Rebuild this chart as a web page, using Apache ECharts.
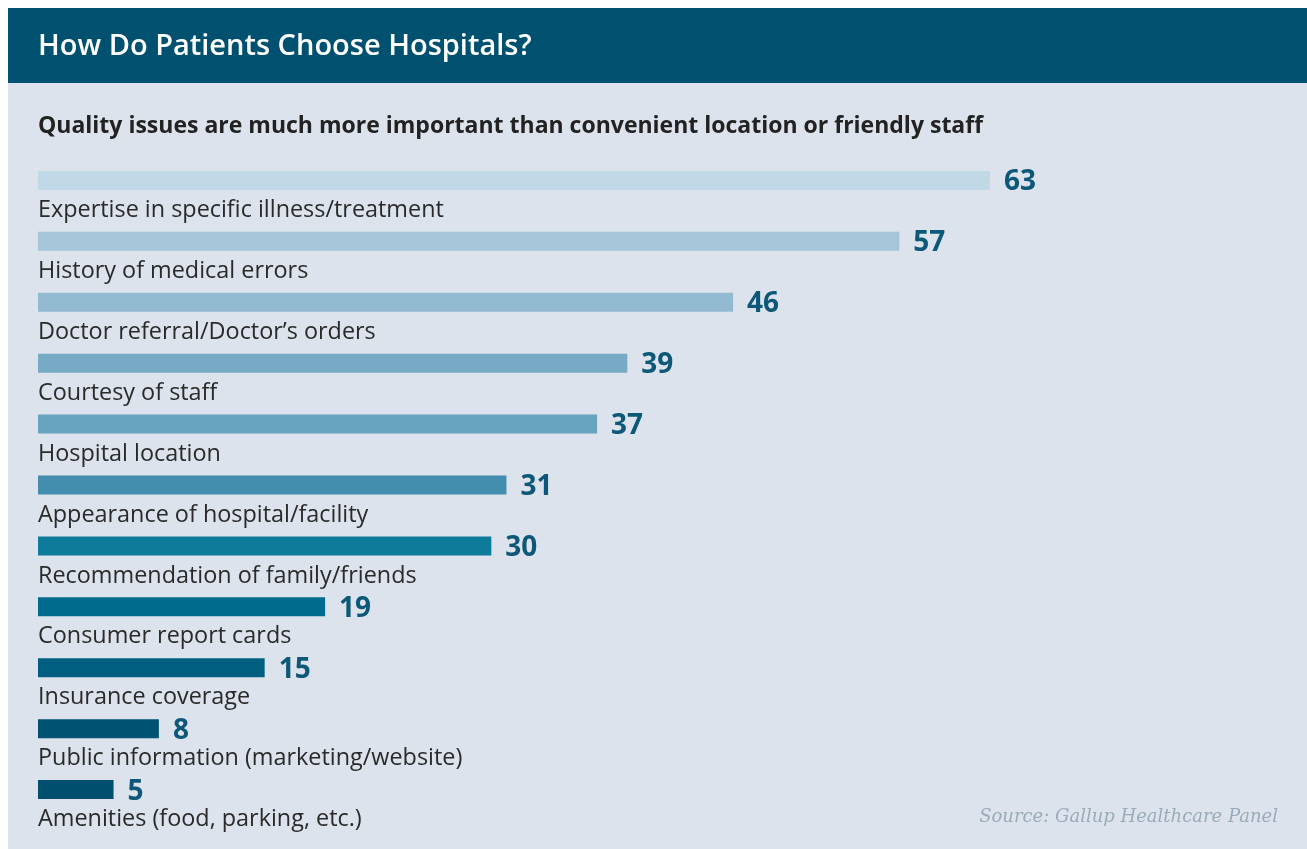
<!DOCTYPE html>
<html>
<head>
<meta charset="utf-8">
<title>How Do Patients Choose Hospitals?</title>
<script src="https://cdn.jsdelivr.net/npm/echarts@6/dist/echarts.min.js"></script>
<style>
  html, body { margin: 0; padding: 0; background: #ffffff; }
  #chart { width: 1307px; height: 849px; }
</style>
</head>
<body>
<div id="chart"></div>
<script>
// categories, top to bottom
const factors = [
  'Expertise in specific illness/treatment',
  'History of medical errors',
  'Doctor referral/Doctor\u2019s orders',
  'Courtesy of staff',
  'Hospital location',
  'Appearance of hospital/facility',
  'Recommendation of family/friends',
  'Consumer report cards',
  'Insurance coverage',
  'Public information (marketing/website)',
  'Amenities (food, parking, etc.)'
]
// percent of patients
const shares = [63, 57, 46, 39, 37, 31, 30, 19, 15, 8, 5]
// bar colours, light to dark
const barColors = ['#c1d9e6', '#a4c6d8', '#92bbd1', '#77abc5', '#68a3c0', '#438eae',
  '#0f7b9b', '#006b8c', '#005f80', '#005273', '#004f6e']

const chartInstance = echarts.init(document.getElementById('chart'))

const option = {
  backgroundColor: '#ffffff',
  animation: false,
  graphic: [
    // panel background
    { type: 'rect', z: -10, shape: { x: 8, y: 83, width: 1299, height: 766 }, style: { fill: '#dce3ec' } },
    // header band
    { type: 'rect', z: -10, shape: { x: 8, y: 8, width: 1299, height: 75 }, style: { fill: '#00516f' } },
    {
      type: 'text', x: 38, y: 47,
      style: { text: 'How Do Patients Choose Hospitals?', fill: '#ffffff', font: '600 29px "Open Sans"', verticalAlign: 'middle' }
    },
    {
      type: 'text', x: 38, y: 126,
      style: { text: 'Quality issues are much more important than convenient location or friendly staff', fill: '#222222', font: 'bold 23px "Open Sans"', verticalAlign: 'middle' }
    },
    {
      type: 'text', x: 1278, y: 817,
      style: { text: 'Source: Gallup Healthcare Panel', fill: '#9aabb9', font: 'italic 18px "DejaVu Serif"', align: 'right', verticalAlign: 'middle' }
    }
  ],
  grid: {
    left: 38,
    top: 150,
    width: 952,
    height: 670
  },
  xAxis: {
    type: 'value',
    min: 0,
    max: 63,
    show: false
  },
  yAxis: {
    type: 'category',
    inverse: true,
    data: factors,
    show: false
  },
  series: [
    {
      type: 'bar',
      barWidth: 19,
      data: shares.map((v, i) => ({ value: v, itemStyle: { color: barColors[i] } })),
      label: {
        show: true,
        position: 'right',
        distance: 14,
        offset: [0, 2],
        color: '#0d5878',
        fontFamily: 'Open Sans',
        fontWeight: 'bold',
        fontSize: 28
      }
    },
    {
      // same bars again, invisible, only to carry the category names under each bar
      type: 'bar',
      barWidth: 19,
      barGap: '-100%',
      silent: true,
      itemStyle: { color: 'rgba(0,0,0,0)' },
      data: shares,
      label: {
        show: true,
        position: 'insideLeft',
        distance: 0,
        offset: [0, 30],
        formatter: p => p.name,
        color: '#2a2a2a',
        fontFamily: 'Open Sans',
        fontSize: 23.4
      }
    }
  ]
}
chartInstance.setOption(option)
</script>
</body>
</html>
